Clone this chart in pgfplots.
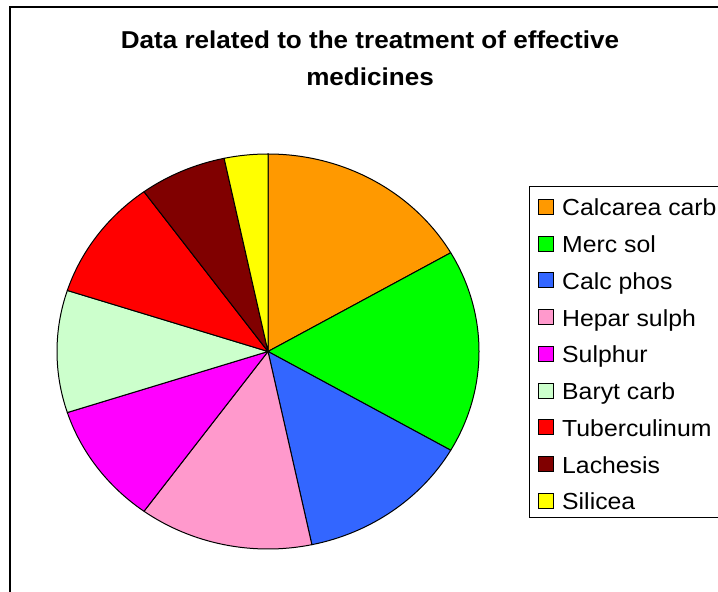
\documentclass[border=0pt]{standalone}
\usepackage{pgfplots}
\pgfplotsset{compat=1.18}
\usepackage{pgfplotstable}
\usepackage{fontspec}
\setmainfont{Liberation Sans}[FakeStretch=1.068]

\definecolor{cCalc}{HTML}{FF9900}
\definecolor{cMerc}{HTML}{00FF00}
\definecolor{cPhos}{HTML}{3366FF}
\definecolor{cHepar}{HTML}{FF99CC}
\definecolor{cSulph}{HTML}{FF00FF}
\definecolor{cBaryt}{HTML}{CCFFCC}
\definecolor{cTuber}{HTML}{FF0000}
\definecolor{cLach}{HTML}{800000}
\definecolor{cSil}{HTML}{FFFF00}

% number of cases per medicine
\pgfplotstableread[col sep=comma,row sep=\\]{
name,value,colour\\
Calcarea carb,5,cCalc\\
Merc sol,5,cMerc\\
Calc phos,4,cPhos\\
Hepar sulph,4,cHepar\\
Sulphur,3,cSulph\\
Baryt carb,3,cBaryt\\
Tuberculinum,3,cTuber\\
Lachesis,2,cLach\\
Silicea,1,cSil\\
}\medtable

% pie geometry (axis units = bp)
\def\cx{268}\def\cy{240.5}\def\rx{211}\def\ry{197.5}

\pgfplotstablegetrowsof{\medtable}
\pgfmathtruncatemacro{\lastrow}{\pgfplotsretval-1}
\def\total{0}
\pgfplotsforeachungrouped \i in {0,...,\lastrow}{%
  \pgfplotstablegetelem{\i}{value}\of\medtable
  \pgfmathsetmacro{\total}{\total+\pgfplotsretval}}

% build slice and legend commands, clockwise from 12 o'clock
\def\piecmds{}
\def\cum{0}
\pgfplotsforeachungrouped \i in {0,...,\lastrow}{%
  \pgfplotstablegetelem{\i}{value}\of\medtable
  \let\slval\pgfplotsretval
  \pgfmathsetmacro{\slA}{90-360*\cum/\total}%
  \pgfmathsetmacro{\cum}{\cum+\slval}%
  \pgfmathsetmacro{\slB}{90-360*\cum/\total}%
  \pgfmathsetmacro{\slX}{\cx+\rx*cos(\slA)}%
  \pgfmathsetmacro{\slY}{\cy+\ry*sin(\slA)}%
  \pgfplotstablegetelem{\i}{colour}\of\medtable
  \let\slcol\pgfplotsretval
  \pgfplotstablegetelem{\i}{name}\of\medtable
  \let\slname\pgfplotsretval
  \pgfmathsetmacro{\lgtop}{592-199.5-36.75*\i}%
  \pgfmathsetmacro{\lgbot}{\lgtop-15}%
  \pgfmathsetmacro{\lgbase}{592-216-36.75*\i}%
  \edef\piecmds{\unexpanded\expandafter{\piecmds}%
    \noexpand\filldraw[fill=\slcol,draw=black,line width=1bp,line join=round]
      (axis cs:\cx,\cy) -- (axis cs:\slX,\slY)
      arc[start angle=\slA,end angle=\slB,x radius=\rx bp,y radius=\ry bp] -- cycle;
    \noexpand\filldraw[fill=\slcol,draw=black,line width=1bp]
      (axis cs:538.5,\lgbot) rectangle (axis cs:553,\lgtop);
    \noexpand\node[anchor=base west,inner sep=0pt,font=\noexpand\fontsize{23.3}{28}\noexpand\selectfont]
      at (axis cs:562,\lgbase) {\slname};
  }%
}

\begin{document}
\begin{tikzpicture}
\begin{axis}[
  width=718bp, height=592bp, scale only axis,
  xmin=0, xmax=718, ymin=0, ymax=592,
  hide axis, clip=false,
]
% chart area frame
\draw[line width=2bp] (axis cs:10,-5) -- (axis cs:10,585) -- (axis cs:730,585);
% legend frame
\draw[line width=1bp] (axis cs:740,405) -- (axis cs:529,405) -- (axis cs:529,74) -- (axis cs:740,74);
% title
\node[anchor=base,inner sep=0pt,font=\bfseries\fontsize{24.5}{30}\selectfont]
  at (axis cs:370,543) {Data related to the treatment of effective};
\node[anchor=base,inner sep=0pt,font=\bfseries\fontsize{24.5}{30}\selectfont]
  at (axis cs:370,506) {medicines};
\piecmds
\end{axis}
\pgfresetboundingbox
\useasboundingbox (current axis.south west) rectangle (current axis.north east);
\end{tikzpicture}
\end{document}
